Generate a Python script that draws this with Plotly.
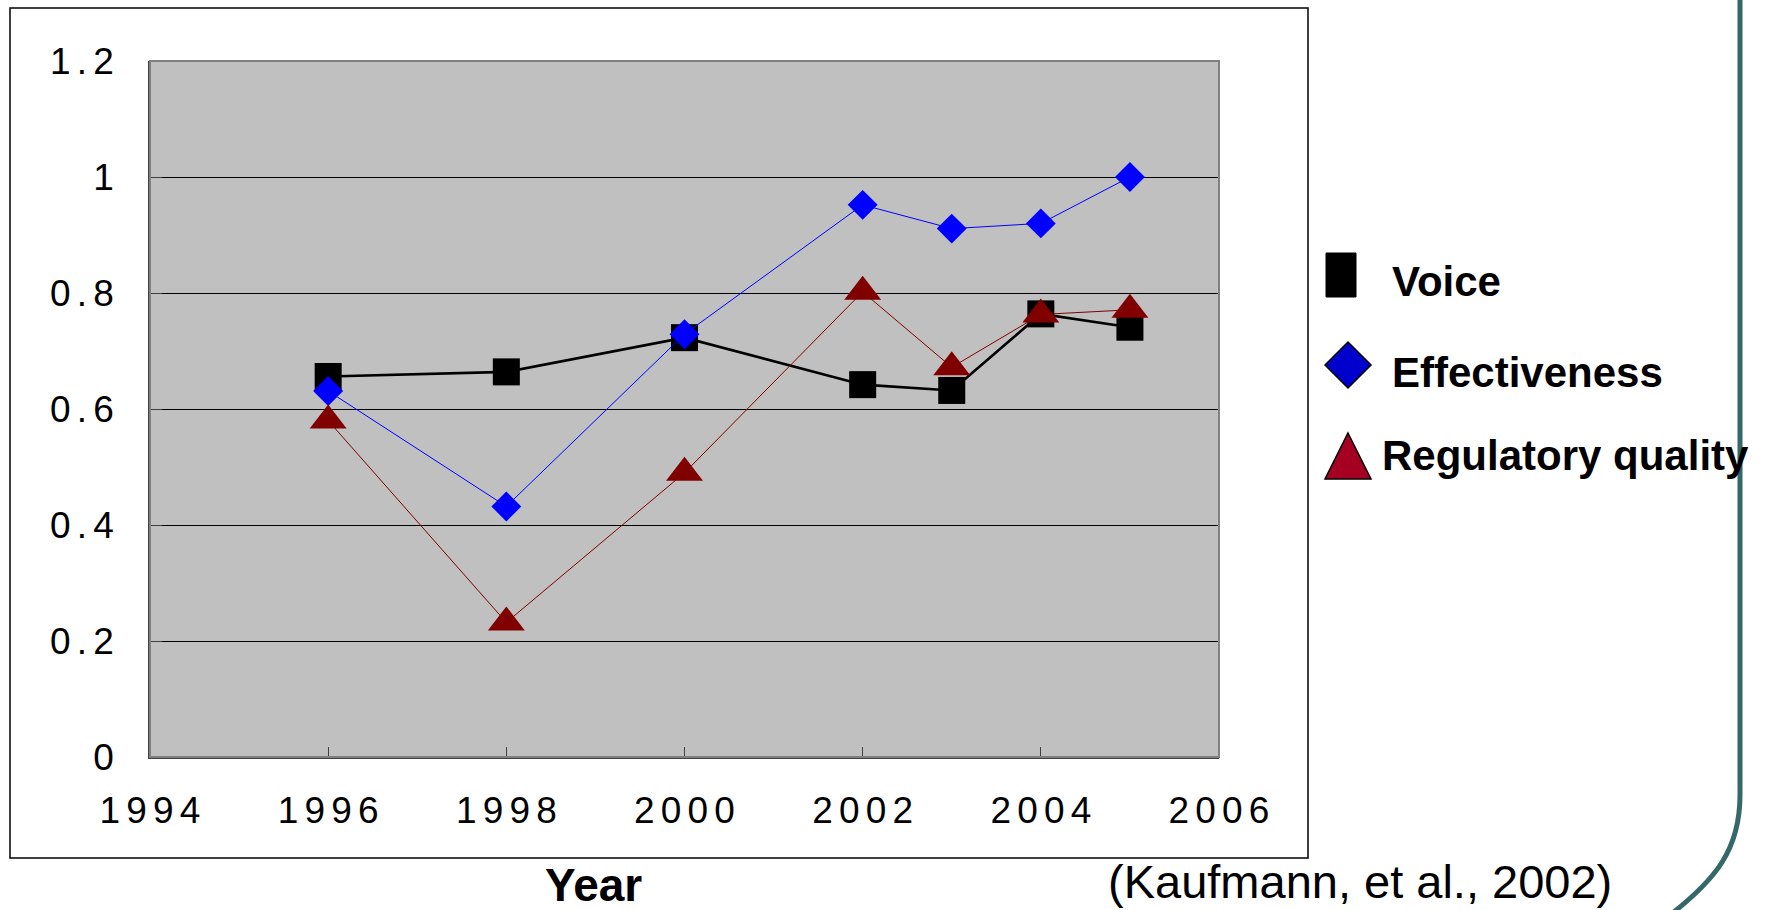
import plotly.graph_objects as go

years = [1996, 1998, 2000, 2002, 2003, 2004, 2005]
voice = [0.656, 0.664, 0.723, 0.642, 0.632, 0.764, 0.741]
effectiveness = [0.631, 0.432, 0.729, 0.952, 0.911, 0.920, 1.000]
regulatory = [0.580, 0.232, 0.490, 0.802, 0.672, 0.763, 0.771]

x_ticks = [1994, 1996, 1998, 2000, 2002, 2004, 2006]
y_ticks = [0, 0.2, 0.4, 0.6, 0.8, 1.0, 1.2]
y_tick_labels = ["0", "0.2", "0.4", "0.6", "0.8", "1", "1.2"]

SP = "\u2006"
def spaced(s):
    return SP.join(list(s))

W, H = 1771, 910
PL, PR, PT, PB = 150, 1219, 61, 757

def px(x):
    return (x - PL) / (PR - PL)

def py(y):
    return (PB - y) / (PB - PT)

TICKFONT = dict(family="Liberation Sans, Arial", size=37, color="black")

fig = go.Figure()
fig.add_trace(go.Scatter(
    x=years, y=voice, mode="lines+markers", name="Voice",
    line=dict(color="black", width=2.6),
    marker=dict(symbol="square", size=27, color="black"),
))
fig.add_trace(go.Scatter(
    x=years, y=effectiveness, mode="lines+markers", name="Effectiveness",
    line=dict(color="#0000FF", width=1),
    marker=dict(symbol="diamond", size=23, color="#0000FF"),
))
fig.add_trace(go.Scatter(
    x=years, y=regulatory, mode="lines+markers", name="Regulatory quality",
    line=dict(color="#800000", width=1),
    marker=dict(symbol="triangle-up", size=32, color="#800000"),
))

shapes = []
# plot area border (gray)
shapes.append(dict(type="rect", xref="paper", yref="paper", x0=0, x1=1, y0=0, y1=1,
                   line=dict(color="#808080", width=2), layer="above"))
# outer chart frame
shapes.append(dict(type="rect", xref="paper", yref="paper",
                   x0=px(10), x1=px(1308), y0=py(858), y1=py(8),
                   line=dict(color="black", width=1.5), layer="below"))
# legend symbols
shapes.append(dict(type="rect", xref="paper", yref="paper",
                   x0=px(1326), x1=px(1356), y0=py(297), y1=py(253),
                   fillcolor="black", line=dict(color="black", width=1)))
def path(pts):
    return "M " + " L ".join(f"{px(a):.5f},{py(b):.5f}" for a, b in pts) + " Z"
shapes.append(dict(type="path", xref="paper", yref="paper",
                   path=path([(1325, 365), (1348, 342), (1371, 365), (1348, 388)]),
                   fillcolor="#0000CC", line=dict(color="black", width=1.5)))
shapes.append(dict(type="path", xref="paper", yref="paper",
                   path=path([(1348, 433), (1371, 479), (1325, 479)]),
                   fillcolor="#A50021", line=dict(color="black", width=1.5)))
# teal slide decoration
shapes.append(dict(type="path", xref="paper", yref="paper",
                   path=(f"M {px(1740):.5f},{py(-10):.5f} L {px(1740):.5f},{py(795):.5f} "
                         f"C {px(1740):.5f},{py(850):.5f} {px(1715):.5f},{py(880):.5f} {px(1670):.5f},{py(915):.5f}"),
                   line=dict(color="#356969", width=5)))

LEG = dict(family="Liberation Sans, Arial", size=42, color="black", weight="bold")
annotations = [
    dict(text="Voice", x=px(1390), y=py(281), xanchor="left", yanchor="middle"),
    dict(text="Effectiveness", x=px(1390), y=py(372), xanchor="left", yanchor="middle"),
    dict(text="Regulatory quality", x=px(1380), y=py(455), xanchor="left", yanchor="middle"),
]
for a in annotations:
    a.update(xref="paper", yref="paper", showarrow=False, font=LEG)
annotations.append(dict(text="Year", x=px(593), y=py(885), xref="paper", yref="paper",
                        xanchor="center", yanchor="middle", showarrow=False,
                        font=dict(family="Liberation Sans, Arial", size=46, color="black", weight="bold")))
annotations.append(dict(text="(Kaufmann, et al., 2002)", x=px(1360), y=py(881), xref="paper", yref="paper",
                        xanchor="center", yanchor="middle", showarrow=False,
                        font=dict(family="Liberation Sans, Arial", size=47, color="black")))

fig.update_layout(
    width=W, height=H,
    margin=dict(l=PL, r=W - PR, t=PT, b=H - PB, pad=0),
    paper_bgcolor="white",
    plot_bgcolor="#C0C0C0",
    showlegend=False,
    shapes=shapes,
    annotations=annotations,
    xaxis=dict(
        range=[1994, 2006], tickvals=x_ticks, ticktext=[spaced(str(v)) for v in x_ticks],
        showgrid=False, zeroline=False, showline=True, linecolor="#404040", linewidth=2,
        ticks="inside", ticklen=10, tickcolor="#404040", tickwidth=1,
        tickfont=TICKFONT, ticklabelstandoff=20,
    ),
    yaxis=dict(
        range=[0, 1.2], tickvals=y_ticks, ticktext=[spaced(t) for t in y_tick_labels],
        showgrid=True, gridcolor="black", gridwidth=1,
        zeroline=False, showline=True, linecolor="#404040", linewidth=1.5,
        ticks="inside", ticklen=12, tickcolor="#404040", tickwidth=1,
        tickfont=TICKFONT, ticklabelstandoff=27,
    ),
)

fig.write_html("out.html", config={"displayModeBar": False},
               post_script="document.body.style.margin='0';document.body.style.overflow='hidden';")
